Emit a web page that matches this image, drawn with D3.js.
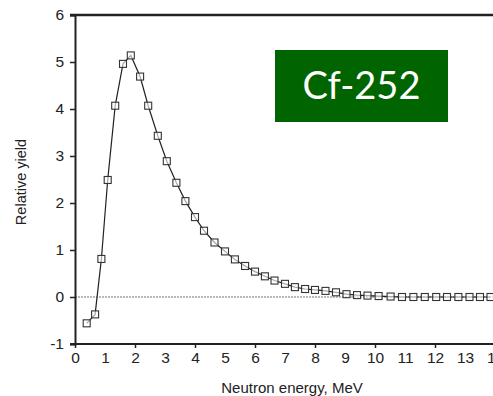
<!DOCTYPE html>
<html>
<head>
<meta charset="utf-8">
<script src="https://cdn.jsdelivr.net/npm/d3@7"></script>
<style>
  body { margin: 0; background: #fff; }
  svg { display: block; }
  text { font-family: "Liberation Sans", Arial, sans-serif; fill: #222; }
</style>
</head>
<body>
<svg id="chart" width="493" height="396"></svg>
<script>
// neutron energy (MeV) and relative yield
var energy = [0.39, 0.67, 0.88, 1.09, 1.34, 1.60, 1.86, 2.17, 2.44, 2.76,
  3.06, 3.38, 3.68, 4.00, 4.30, 4.65, 5.00, 5.33, 5.67, 6.00,
  6.33, 6.65, 7.00, 7.33, 7.67, 8.00, 8.35, 8.70, 9.05, 9.40,
  9.75, 10.12, 10.52, 10.90, 11.28, 11.66, 12.04, 12.40, 12.78, 13.15,
  13.50, 13.85];
var yieldVals = [-0.56, -0.37, 0.81, 2.49, 4.07, 4.96, 5.14, 4.69, 4.07, 3.43,
  2.89, 2.43, 2.04, 1.70, 1.41, 1.16, 0.97, 0.80, 0.66, 0.54,
  0.44, 0.35, 0.28, 0.21, 0.17, 0.15, 0.13, 0.10, 0.06, 0.04,
  0.03, 0.02, 0.01, 0.0, 0.0, 0.0, 0.0, 0.0, 0.0, 0.0,
  0.0, 0.0];
var xTicks = d3.range(0, 15);
var yTicks = d3.range(-1, 7);
var badge = "Cf-252";

var svg = d3.select("#chart");

var x = d3.scaleLinear().domain([0, 14]).range([75, 495]);
var y = d3.scaleLinear().domain([-1, 6]).range([344, 15]);
var plain = function (d) { return String(d); };   // hyphen minus like the original

// zero reference line (dotted)
svg.append("line")
  .attr("x1", x(0)).attr("x2", 493)
  .attr("y1", y(0)).attr("y2", y(0))
  .attr("stroke", "#777")
  .attr("stroke-width", 1.2)
  .attr("stroke-dasharray", "2,1");

// y axis
var yAxis = svg.append("g")
  .attr("transform", "translate(" + x(0) + ",0)")
  .call(d3.axisLeft(y).tickValues(yTicks).tickSize(5).tickPadding(6).tickFormat(plain));
yAxis.select(".domain").attr("stroke", "#222").attr("stroke-width", 2);
yAxis.selectAll(".tick line").attr("stroke", "#222").attr("stroke-width", 1.5);
yAxis.selectAll("text").style("font-size", "15.5px").attr("fill", "#222");

// x axis, marks on even values, labels on every integer
var xAxis = svg.append("g")
  .attr("transform", "translate(0," + y(-1) + ")")
  .call(d3.axisBottom(x).tickValues(xTicks).tickSize(4).tickPadding(4).tickFormat(plain));
xAxis.select(".domain").attr("d", "M70,0H493").attr("stroke", "#222").attr("stroke-width", 2);
xAxis.selectAll(".tick line")
  .attr("stroke", "#222").attr("stroke-width", 1.5)
  .attr("opacity", function (d) { return d % 2 === 0 ? 1 : 0; });
xAxis.selectAll("text").style("font-size", "15.5px").attr("fill", "#222");

// top frame line
svg.append("line")
  .attr("x1", 70).attr("x2", 493)
  .attr("y1", y(6)).attr("y2", y(6))
  .attr("stroke", "#222").attr("stroke-width", 2.5);

// axis titles
svg.append("text")
  .attr("transform", "translate(26,182) rotate(-90)")
  .attr("text-anchor", "middle")
  .style("font-size", "14.5px")
  .text("Relative yield");

svg.append("text")
  .attr("x", 292).attr("y", 393)
  .attr("text-anchor", "middle")
  .style("font-size", "15px")
  .text("Neutron energy, MeV");

// spectrum line + square markers
var pts = energy.map(function (e, i) { return [e, yieldVals[i]]; });

svg.append("path")
  .datum(pts)
  .attr("fill", "none")
  .attr("stroke", "#222")
  .attr("stroke-width", 1.2)
  .attr("d", d3.line().x(function (d) { return x(d[0]); }).y(function (d) { return y(d[1]); }));

svg.selectAll("rect.pt")
  .data(pts)
  .enter().append("rect")
  .attr("class", "pt")
  .attr("x", function (d) { return x(d[0]) - 3.5; })
  .attr("y", function (d) { return y(d[1]) - 3.5; })
  .attr("width", 7).attr("height", 7)
  .attr("fill", "#fff")
  .attr("fill-opacity", 0.6)
  .attr("stroke", "#333")
  .attr("stroke-width", 1.1);

// green label box
var bx = svg.append("g").attr("transform", "translate(275,50)");
bx.append("rect").attr("width", 173).attr("height", 72).attr("fill", "#006400");
bx.append("text")
  .attr("x", 86.5).attr("y", 49)
  .attr("text-anchor", "middle")
  .style("font-family", "Lato, 'Open Sans', sans-serif")
  .style("font-size", "38px")
  .style("fill", "#fff")
  .text(badge);
</script>
</body>
</html>
